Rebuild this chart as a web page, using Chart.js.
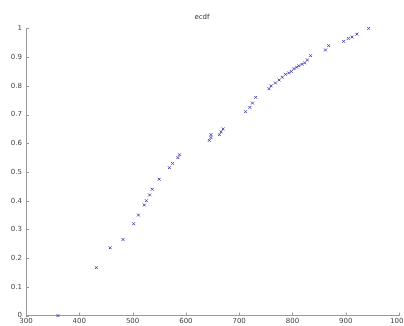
<!DOCTYPE html>
<html>
<head>
<meta charset="utf-8">
<script src="https://cdn.jsdelivr.net/npm/chart.js@4/dist/chart.umd.min.js"></script>
<style>
html,body{margin:0;padding:0;background:#fff;overflow:hidden}
#wrap{width:404px;height:326px}
</style>
</head>
<body>
<div id="wrap"><canvas id="myChart" width="404" height="326"></canvas></div>
<script>
var titleText = "ecdf";
var xValues = [360, 432, 458, 482, 502, 511, 522, 526, 532, 537, 550, 569, 575, 585, 588,
  644, 647, 647, 663, 666, 670, 712, 720, 725, 731, 756, 760, 768, 775, 781, 787, 793, 798,
  803, 808, 812, 818, 823, 828, 834, 862, 868, 896, 905, 912, 921, 943];
var yValues = [0, 0.167, 0.236, 0.265, 0.32, 0.35, 0.385, 0.40, 0.42, 0.44, 0.475, 0.515, 0.53, 0.55, 0.56,
  0.61, 0.62, 0.63, 0.63, 0.64, 0.65, 0.71, 0.725, 0.74, 0.76, 0.79, 0.80, 0.81, 0.82, 0.83, 0.84, 0.845, 0.85,
  0.86, 0.865, 0.87, 0.875, 0.88, 0.89, 0.905, 0.925, 0.94, 0.955, 0.965, 0.97, 0.98, 1.0];

var pts = xValues.map((x, i) => ({x: x, y: yValues[i]}));

// matlab style ticks pointing inwards
var inwardTicks = {
  id: 'inwardTicks',
  afterDraw(chart) {
    const c = chart.ctx, xs = chart.scales.x, ys = chart.scales.y;
    c.save();
    c.strokeStyle = '#999';
    c.lineWidth = 1;
    c.beginPath();
    xs.ticks.forEach((t, i) => {
      const px = Math.round(xs.getPixelForTick(i)) + 0.5;
      c.moveTo(px, ys.bottom); c.lineTo(px, ys.bottom - 3);
    });
    ys.ticks.forEach((t, i) => {
      const py = Math.round(ys.getPixelForTick(i)) + 0.5;
      c.moveTo(xs.left, py); c.lineTo(xs.left + 3, py);
    });
    c.stroke();
    c.restore();
  }
};

new Chart(document.getElementById('myChart'), {
  type: 'scatter',
  data: {
    datasets: [{
      data: pts,
      clip: false,
      pointStyle: 'crossRot',
      pointRadius: 2,
      pointBorderWidth: 1,
      borderColor: '#4848b0',
      backgroundColor: '#4848b0'
    }]
  },
  plugins: [inwardTicks],
  options: {
    responsive: false,
    animation: false,
    layout: {padding: {top: 0, right: 0, left: 0, bottom: 0}},
    plugins: {
      legend: {display: false},
      tooltip: {enabled: false},
      title: {
        display: true,
        text: titleText,
        color: '#333',
        font: {family: 'DejaVu Sans', size: 7, weight: 'normal'},
        padding: {top: 13, bottom: 7}
      }
    },
    scales: {
      x: {
        type: 'linear',
        min: 300, max: 1000,
        ticks: {stepSize: 100, color: '#444', padding: 1, maxRotation: 0,
          font: {family: 'DejaVu Sans', size: 7},
          callback: (v) => String(v)},
        grid: {display: false, drawTicks: false},
        border: {display: true, color: '#999'},
        afterFit: (s) => { s.paddingRight = 4; }
      },
      y: {
        min: 0, max: 1,
        ticks: {stepSize: 0.1, color: '#444', padding: 4,
          font: {family: 'DejaVu Sans', size: 7},
          callback: (v) => String(+v.toFixed(1))},
        grid: {display: false, drawTicks: false},
        border: {display: true, color: '#999'},
        afterFit: (s) => { s.width = 26; }
      }
    }
  }
});
</script>
</body>
</html>
